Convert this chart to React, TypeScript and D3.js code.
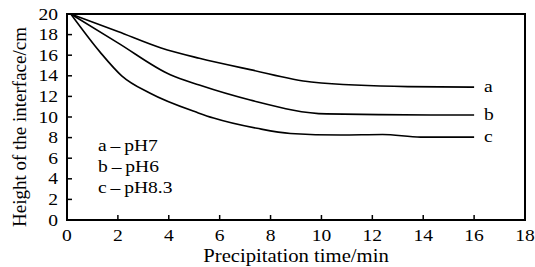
import React, { useEffect, useRef } from "react";
import * as d3 from "d3";

// curve a - pH7
const timeA = [0.15, 2, 3.7, 5.2, 7.2, 9.6, 13.4, 16];
const heightA = [20, 18.3, 16.7, 15.7, 14.6, 13.4, 12.95, 12.9];
// curve b - pH6
const timeB = [0.15, 2, 4.06, 5.2, 7.2, 10.2, 14.3, 16];
const heightB = [20, 17.2, 14.1, 13.1, 11.65, 10.3, 10.2, 10.2];
// curve c - pH8.3
const timeC = [0.15, 1.3, 2.15, 3.27, 5.16, 5.76, 7.47, 8.78, 10.75, 12.4, 13.9, 16];
const heightC = [20, 16.3, 14.0, 12.3, 10.4, 9.9, 8.9, 8.4, 8.25, 8.3, 8.05, 8.05];

const curveNames = ["a", "b", "c"];
const legendLabels = ["a\u2009\u2013\u2009pH7", "b\u2009\u2013\u2009pH6", "c\u2009\u2013\u2009pH8.3"];
const xTicks = [0, 2, 4, 6, 8, 10, 12, 14, 16, 18];
const yTicks = [0, 2, 4, 6, 8, 10, 12, 14, 16, 18, 20];

const W = 535,
  H = 267;
const margin = { top: 14, right: 10, bottom: 47, left: 67 };
const FONT = "'Liberation Serif', 'Times New Roman', serif";
const SX = 1.15; // the picture is a bit wide

export default function App() {
  const ref = useRef<SVGSVGElement>(null);

  useEffect(() => {
    const svg = d3.select(ref.current);
    svg.selectAll("*").remove();
    const w = W - margin.left - margin.right;
    const h = H - margin.top - margin.bottom;

    const x = d3.scaleLinear().domain([0, 18]).range([margin.left, margin.left + w]);
    const y = d3.scaleLinear().domain([0, 20]).range([margin.top + h, margin.top]);

    const g = svg.append("g");

    // ticks, inside
    g.selectAll(".xt")
      .data(xTicks.slice(1, -1))
      .join("line")
      .attr("x1", (d) => x(d))
      .attr("x2", (d) => x(d))
      .attr("y1", y(0))
      .attr("y2", y(0) - 5)
      .attr("stroke", "#000")
      .attr("stroke-width", 1.5);
    g.selectAll(".yt")
      .data(yTicks.slice(1, -1))
      .join("line")
      .attr("x1", x(0))
      .attr("x2", x(0) + 5)
      .attr("y1", (d) => y(d))
      .attr("y2", (d) => y(d))
      .attr("stroke", "#000")
      .attr("stroke-width", 1.5);

    // tick labels
    g.selectAll(".xl")
      .data(xTicks)
      .join("text")
      .attr("transform", (d) => `translate(${x(d)},${y(0) + 21}) scale(${SX},1)`)
      .attr("text-anchor", "middle")
      .attr("font-family", FONT)
      .attr("font-size", 17)
      .text((d) => d);
    g.selectAll(".yl")
      .data(yTicks)
      .join("text")
      .attr("transform", (d) => `translate(${x(0) - 9},${y(d) + 5.5}) scale(${SX},1)`)
      .attr("text-anchor", "end")
      .attr("font-family", FONT)
      .attr("font-size", 17)
      .text((d) => d);

    // frame
    g.append("rect")
      .attr("x", x(0))
      .attr("y", y(20))
      .attr("width", x(18) - x(0))
      .attr("height", y(0) - y(20))
      .attr("fill", "none")
      .attr("stroke", "#000")
      .attr("stroke-width", 2);

    const series = [
      { t: timeA, v: heightA },
      { t: timeB, v: heightB },
      { t: timeC, v: heightC },
    ];
    const line = d3
      .line<[number, number]>()
      .x((d) => x(d[0]))
      .y((d) => y(d[1]))
      .curve(d3.curveMonotoneX);

    series.forEach((s, i) => {
      const pts = s.t.map((t, k) => [t, s.v[k]] as [number, number]);
      g.append("path")
        .attr("d", line(pts))
        .attr("fill", "none")
        .attr("stroke", "#000")
        .attr("stroke-width", 1.6);
      const last = pts[pts.length - 1];
      g.append("text")
        .attr("transform", `translate(${x(last[0]) + 10},${y(last[1]) + 5}) scale(${SX},1)`)
        .attr("font-family", FONT)
        .attr("font-size", 17)
        .text(curveNames[i]);
    });

    // legend text
    legendLabels.forEach((lab, i) => {
      g.append("text")
        .attr("transform", `translate(98,${151 + i * 21}) scale(${SX},1)`)
        .attr("font-family", FONT)
        .attr("font-size", 17)
        .text(lab);
    });

    // axis titles
    g.append("text")
      .attr("transform", `translate(${(x(0) + x(18)) / 2},${H - 5}) scale(${SX},1)`)
      .attr("text-anchor", "middle")
      .attr("font-family", FONT)
      .attr("font-size", 18)
      .text("Precipitation time/min");
    g.append("text")
      .attr("transform", `translate(26,127) rotate(-90)`)
      .attr("text-anchor", "middle")
      .attr("font-family", FONT)
      .attr("font-size", 19)
      .text("Height of the interface/cm");
  }, []);

  return (
    <svg
      ref={ref}
      width={W}
      height={H}
      style={{ position: "absolute", left: 0, top: 0, background: "#fff" }}
    />
  );
}
